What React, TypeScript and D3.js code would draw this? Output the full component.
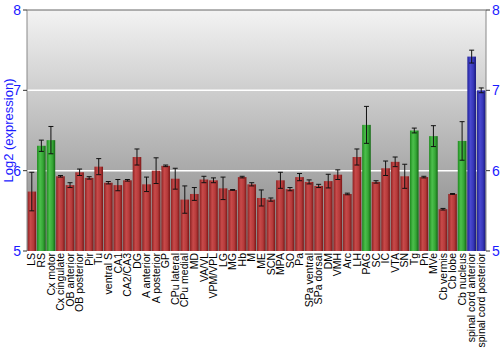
import React from "react";
import * as d3 from "d3";

const categories = ["LS","RS","Cx motor","Cx cingulate","OB anterior","OB posterior","Pir","Tu","ventral S","CA1","CA2/CA3","DG","A anterior","A posterior","GP","CPu lateral","CPu medial","MD","VA/VL","VPM/VPL","LG","MG","Hb","M","ME","SCN","MPA","SO","Pa","SPa ventral","SPa dorsal","DM","VMH","Arc","LH","PAG","SC","IC","VTA","SN","Tg","Pn","MVe","Cb vermis","Cb lobe","Cb nucleus","spinal cord anterior","spinal cord posterior"];
const values = [5.74,6.31,6.38,5.93,5.82,5.98,5.91,6.05,5.85,5.82,5.88,6.17,5.83,6.0,6.06,5.9,5.64,5.71,5.89,5.88,5.78,5.76,5.92,5.83,5.66,5.64,5.88,5.77,5.92,5.86,5.81,5.87,5.95,5.71,6.17,6.57,5.86,6.03,6.11,5.93,6.5,5.92,6.43,5.52,5.71,6.37,7.42,7.0];
const errors = [0.24,0.07,0.17,0.01,0.03,0.04,0.015,0.1,0.015,0.07,0.01,0.1,0.09,0.16,0.01,0.13,0.17,0.08,0.04,0.03,0.14,0.005,0.01,0.02,0.1,0.02,0.1,0.02,0.045,0.025,0.02,0.085,0.06,0.01,0.1,0.23,0.015,0.09,0.06,0.15,0.03,0.01,0.13,0.01,0.005,0.24,0.08,0.03];
const groups = ["r","g","g","r","r","r","r","r","r","r","r","r","r","r","r","r","r","r","r","r","r","r","r","r","r","r","r","r","r","r","r","r","r","r","r","g","r","r","r","r","g","r","g","r","r","g","b","b"];
const yTicks = [5, 6, 7, 8];

const gradStops: Record<string, string[]> = {
  r: ["#8e2222", "#c84a4a", "#b53a3a", "#7a1616"],
  g: ["#1f8a1f", "#4cc04c", "#35a535", "#146814"],
  b: ["#22229a", "#4a4ad0", "#3737b8", "#16167a"],
};

export default function App() {
  const W = 500, H = 350;
  const left = 27, right = 486, top = 10, bottom = 251;
  const x = d3.scaleBand<string>().domain(categories).range([left, right]).paddingInner(0.1).paddingOuter(0.05);
  const y = d3.scaleLinear().domain([5, 8]).range([bottom, top]);
  const blue = "#1a1aff";
  const font = "'Liberation Sans', Arial, sans-serif";
  return (
    <svg width={W} height={H} style={{ position: "absolute", left: 0, top: 0 }}>
      <defs>
        <linearGradient id="bg" x1="0" y1="0" x2="0" y2="1">
          <stop offset="0%" stopColor="#f3f3f3" />
          <stop offset="100%" stopColor="#848484" />
        </linearGradient>
        {Object.keys(gradStops).map((k) => (
          <linearGradient key={k} id={"bar-" + k} x1="0" y1="0" x2="1" y2="0">
            <stop offset="0%" stopColor={gradStops[k][0]} />
            <stop offset="35%" stopColor={gradStops[k][1]} />
            <stop offset="70%" stopColor={gradStops[k][2]} />
            <stop offset="100%" stopColor={gradStops[k][3]} />
          </linearGradient>
        ))}
      </defs>
      <rect x={0} y={0} width={W} height={H} fill="#ffffff" />
      <rect x={left} y={top} width={right - left} height={bottom - top} fill="url(#bg)" />
      {yTicks.filter((t) => t > 5 && t < 8).map((t) => (
        <line key={t} x1={left} x2={right} y1={y(t)} y2={y(t)} stroke="#ffffff" strokeWidth={1.5} />
      ))}
      {categories.map((c, i) => {
        const bx = x(c)!;
        const bw = x.bandwidth();
        const cx = bx + bw / 2;
        return (
          <g key={c}>
            <rect x={bx} y={y(values[i])} width={bw} height={bottom - y(values[i])} fill={`url(#bar-${groups[i]})`} />
            <line x1={cx} x2={cx} y1={y(values[i] + errors[i])} y2={y(values[i] - errors[i])} stroke="#111" strokeWidth={1} />
            <line x1={cx - 2.5} x2={cx + 2.5} y1={y(values[i] + errors[i])} y2={y(values[i] + errors[i])} stroke="#111" strokeWidth={1} />
            <line x1={cx - 2.5} x2={cx + 2.5} y1={y(values[i] - errors[i])} y2={y(values[i] - errors[i])} stroke="#111" strokeWidth={1} />
          </g>
        );
      })}
      <line x1={left} x2={right} y1={top} y2={top} stroke="#666" strokeWidth={1} />
      <line x1={left} x2={left} y1={top} y2={bottom} stroke="#888" strokeWidth={1} />
      <line x1={right} x2={right} y1={top} y2={bottom} stroke="#888" strokeWidth={1} />
      {yTicks.map((t) => (
        <g key={t}>
          <line x1={left - 4} x2={left} y1={y(t)} y2={y(t)} stroke="#333" />
          <text x={left - 6} y={y(t)} dy="0.35em" textAnchor="end" fill={blue} fontSize={14} fontFamily={font}>{t}</text>
          <line x1={right} x2={right + 4} y1={y(t)} y2={y(t)} stroke="#333" />
          <text x={right + 6} y={y(t)} dy="0.35em" textAnchor="start" fill={blue} fontSize={14} fontFamily={font}>{t}</text>
        </g>
      ))}
      <text transform={`translate(13,${(top + bottom) / 2}) rotate(-90)`} textAnchor="middle" fill={blue} fontSize={13} fontFamily={font}>Log2 (expression)</text>
      {categories.map((c) => (
        <text key={c} transform={`translate(${x(c)! + x.bandwidth() / 2},${bottom + 2}) rotate(-90)`} dy="0.35em" textAnchor="end" fill="#000" fontSize={10.5} fontFamily={font}>{c}</text>
      ))}
    </svg>
  );
}
